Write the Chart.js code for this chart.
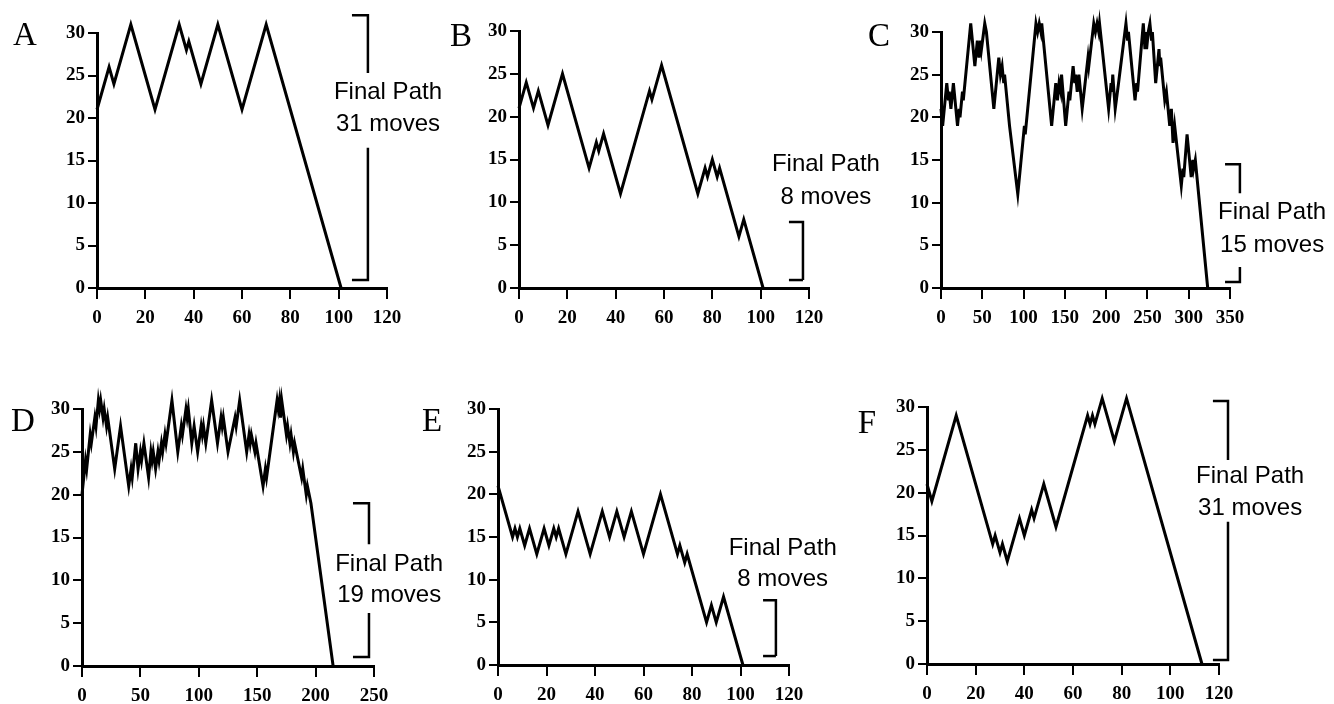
<!DOCTYPE html>
<html><head><meta charset="utf-8">
<script src="https://cdn.jsdelivr.net/npm/chart.js@4.4.1/dist/chart.umd.min.js"></script>
<style>
html,body{margin:0;padding:0;background:#fff;}
body{width:1334px;height:704px;position:relative;overflow:hidden;}
canvas{position:absolute;}
</style></head><body>
<script>
// ---------- DATA (moves vs. distance) ----------
const yMax = 30, yStep = 5;
const finalMoves = [31, 8, 15, 19, 8, 31];
const xMaxima = [120, 120, 350, 250, 120, 120];
const xSteps  = [20, 20, 50, 50, 20, 20];

const aMoves = [0,5,7,14,24,34,37,38,43,50,60,70,101];
const aDist  = [21,26,24,31,21,31,28,29,24,31,21,31,0];

const bMoves = [0,3,6,8,12,18,29,32,33,35,42,54,55,59,74,77,78,80,82,83,91,93,101];
const bDist  = [21,24,21,23,19,25,14,17,16,18,11,23,22,26,11,14,13,15,13,14,6,8,0];

const cMoves = [0,2,7,9,10,12,15,20,22,23,26,27,36,41,44,46,48,49,53,55,64,70,72,74,76,77,83,93,101,102,105,115,117,119,121,122,134,139,141,143,145,146,151,155,156,160,162,163,165,167,171,178,179,185,187,189,191,192,203,206,207,208,211,215,224,226,227,235,237,238,245,247,248,249,251,253,255,256,260,264,265,266,271,273,277,279,281,283,291,293,294,298,303,305,306,308,323];
const cDist  = [21,19,24,22,23,21,24,19,21,20,23,22,31,26,29,27,29,28,31,30,21,27,25,26,24,25,19,11,19,18,21,31,30,31,30,31,19,24,22,24,23,25,19,23,22,26,24,25,23,25,21,27,26,31,30,31,30,31,21,24,23,25,21,24,31,29,30,22,24,23,31,28,30,28,30,31,29,30,24,28,26,27,22,23,19,21,17,19,12,14,13,18,13,15,14,15,0];

const dMoves = [0,3,4,7,8,11,12,14,15,16,18,19,21,22,28,33,40,42,43,46,48,50,51,53,57,59,60,61,63,65,66,68,69,71,72,77,82,85,86,89,90,91,94,96,99,102,103,104,106,111,116,119,120,121,125,131,132,135,141,143,144,145,148,149,155,157,158,167,168,169,170,171,172,175,176,178,179,181,182,188,189,192,193,196,215];
const dDist  = [20,24,23,27,26,29,28,31,30,31,29,30,28,29,23,28,21,23,22,26,23,25,24,26,22,25,24,25,23,25,24,26,25,27,26,31,25,28,27,30,29,30,26,28,25,28,27,28,26,31,26,29,28,29,25,29,28,31,25,27,26,27,25,26,21,23,22,31,30,31,29,31,30,27,28,26,27,25,26,22,23,20,21,19,0];

const eMoves = [0,6,7,8,9,11,13,16,19,21,23,24,25,28,33,38,43,46,49,52,55,60,67,74,75,77,78,86,88,90,93,101];
const eDist  = [21,15,16,15,16,14,16,13,16,14,16,15,16,13,18,13,18,15,18,15,18,13,20,13,14,12,13,5,7,5,8,0];

const fMoves = [0,2,12,27,28,30,31,33,38,40,43,44,48,53,66,67,68,69,72,77,82,113];
const fDist  = [21,19,29,14,15,13,14,12,17,15,18,17,21,16,29,28,29,28,31,26,31,0];

// ---------- ANNOTATION PLACEMENT (data units) ----------
// bracket: [tickLeftX, lineX, topY, gapTopY, gapBottomY, bottomY]
const brackets = [
  [105.5,112.1,32.1,25.3,16.5,0.94],
  [111.7,117.5,7.7,null,null,0.93],
  [344,362,14.5,11.1,2.46,0.7],
  [232,245.7,19.0,14.2,6.2,1.05],
  [109.3,114.6,7.6,null,null,1.05],
  [117.5,123.7,30.7,23.8,16.6,0.47]
];
// text: [centerX, line1Y, line2Y]
const labelPos = [
  [120.4,23.0,19.3],
  [127,14.4,10.6],
  [401,8.9,5.0],
  [263,11.9,8.2],
  [117.4,13.7,10.0],
  [132.8,21.9,18.2]
];

// ---------- LAYOUT (page pixels) ----------
const panelIds = ['A','B','C','D','E','F'];
const seriesX = [aMoves,bMoves,cMoves,dMoves,eMoves,fMoves];
const seriesY = [aDist,bDist,cDist,dDist,eDist,fDist];
const canvases = [[0,0,460,352],[440,0,445,352],[855,0,479,352],[0,352,460,352],[410,352,450,352],[850,352,484,352]];
const plots = [[97,33,387,288],[519,31,809,288],[941,32,1230,288],[82,409,374,666],[498,409,789,665],[927,407,1219,664]];
const letterPos = [[25,36],[461,37],[879,37],[23,422],[432,422],[867,424]];

const YW = 45, XH = 38;
const serif = '"Liberation Serif", "Times New Roman", serif';
const sans = '"Liberation Sans", Arial, sans-serif';

function axisCommon(){
  return {
    type:'linear',
    ticks:{color:'#000', font:{family:serif, size:19, weight:'bold'}, maxRotation:0, autoSkip:false},
    grid:{drawOnChartArea:false, drawTicks:true, color:'#000', lineWidth:2},
    border:{display:true, color:'#000', width:3}
  };
}

panelIds.forEach((id, i) => {
  const [cl, ct, cw, ch] = canvases[i];
  const [L, T, R, B] = plots[i];
  const cv = document.createElement('canvas');
  cv.width = cw; cv.height = ch;
  cv.style.left = cl + 'px'; cv.style.top = ct + 'px';
  cv.style.width = cw + 'px'; cv.style.height = ch + 'px';
  document.body.appendChild(cv);

  const pts = seriesX[i].map((v, k) => ({x: v, y: seriesY[i][k]}));
  const br = brackets[i];
  let upper, lower;
  // points listed right-to-left so the library does not treat them as sorted and trim them to the axis range
  if (br[3] === null) {
    upper = [{x:br[1],y:br[5]},{x:br[1],y:br[2]},{x:br[0],y:br[2]}];
    lower = [{x:br[1],y:br[5]},{x:br[0],y:br[5]}];
  } else {
    upper = [{x:br[1],y:br[3]},{x:br[1],y:br[2]},{x:br[0],y:br[2]}];
    lower = [{x:br[1],y:br[4]},{x:br[1],y:br[5]},{x:br[0],y:br[5]}];
  }
  const brStyle = {borderColor:'#000', borderWidth:2.5, pointRadius:0, clip:false, tension:0, borderJoinStyle:'miter', borderCapStyle:'butt'};

  const xAxis = axisCommon();
  xAxis.min = 0; xAxis.max = xMaxima[i];
  xAxis.ticks.stepSize = xSteps[i];
  xAxis.ticks.padding = 8;
  xAxis.grid.tickLength = 11;
  xAxis.afterFit = s => { s.height = XH; };
  const yAxis = axisCommon();
  yAxis.min = 0; yAxis.max = yMax;
  yAxis.ticks.stepSize = yStep;
  yAxis.ticks.padding = 3;
  yAxis.grid.tickLength = 9;
  yAxis.afterFit = s => { s.width = YW; };

  const annot = {
    id: 'annot' + id,
    afterDatasetsDraw(chart){
      const ctx = chart.ctx, xs = chart.scales.x, ys = chart.scales.y;
      const t = labelPos[i];
      ctx.save();
      ctx.fillStyle = '#000';
      ctx.textAlign = 'center';
      ctx.textBaseline = 'middle';
      ctx.font = '24px ' + sans;
      ctx.fillText('Final Path', xs.getPixelForValue(t[0]), ys.getPixelForValue(t[1]));
      ctx.fillText(finalMoves[i] + ' moves', xs.getPixelForValue(t[0]), ys.getPixelForValue(t[2]));
      ctx.font = '33px ' + serif;
      ctx.fillText(id, letterPos[i][0] - cl, letterPos[i][1] - ct);
      ctx.restore();
    }
  };

  new Chart(cv, {
    type: 'line',
    data: {datasets: [
      {data: pts, borderColor:'#000', borderWidth:3, pointRadius:0, tension:0, clip:false, borderJoinStyle:'miter'},
      Object.assign({data: upper}, brStyle),
      Object.assign({data: lower}, brStyle)
    ]},
    options: {
      responsive:false, animation:false, devicePixelRatio:1,
      layout:{padding:{left:L-cl-YW, top:T-ct, right:cl+cw-R, bottom:Math.max(0, ct+ch-B-XH)}},
      plugins:{legend:{display:false}, tooltip:{enabled:false}},
      scales:{x:xAxis, y:yAxis}
    },
    plugins:[annot]
  });
});
</script>
</body></html>
